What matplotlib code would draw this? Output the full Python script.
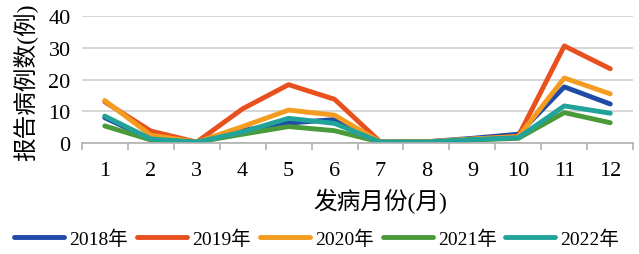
import matplotlib
matplotlib.use("Agg")
import matplotlib.pyplot as plt

months = [1, 2, 3, 4, 5, 6, 7, 8, 9, 10, 11, 12]
y2018 = [8.0, 1.2, 0.3, 4.0, 6.3, 7.4, 0.3, 0.4, 1.5, 2.8, 17.7, 12.3]
y2019 = [13.0, 3.8, 0.3, 10.8, 18.4, 13.8, 0.3, 0.4, 1.2, 2.2, 30.6, 23.4]
y2020 = [13.4, 2.5, 0.3, 5.2, 10.4, 8.8, 0.3, 0.4, 1.3, 2.0, 20.5, 15.5]
y2021 = [5.4, 1.0, 0.3, 2.8, 5.2, 3.9, 0.3, 0.3, 1.0, 1.5, 9.6, 6.4]
y2022 = [8.5, 1.3, 0.3, 3.5, 7.8, 6.2, 0.3, 0.3, 1.1, 1.7, 11.7, 9.4]

series = [
    ("2018年", y2018, "#1f4aa8"),
    ("2019年", y2019, "#e8501e"),
    ("2020年", y2020, "#f39c1f"),
    ("2021年", y2021, "#4a9a3a"),
    ("2022年", y2022, "#22a39a"),
]

fam = ["Liberation Serif", "Noto Sans CJK SC"]
plt.rcParams['font.family'] = fam

fig = plt.figure(figsize=(6.39, 2.55), dpi=100)
ax = fig.add_axes([0.128, 0.435, 0.863, 0.498])

for label, vals, color in series:
    ax.plot(months, vals, color=color, linewidth=3.5, label=label,
            solid_capstyle='round', solid_joinstyle='round')

ax.set_xlim(0.5, 12.5)
ax.set_ylim(0, 40)
ax.set_yticks([0, 10, 20, 30, 40])
ax.set_xticks(months)
ax.set_xticks([m + 0.5 for m in range(0, 13)], minor=True)
ax.yaxis.grid(True, color="#d0d0d0", linewidth=1.2)
ax.set_axisbelow(True)
for s in ["top", "right", "left"]:
    ax.spines[s].set_visible(False)
ax.spines["bottom"].set_color("#b0b0b0")
ax.spines["bottom"].set_linewidth(1.2)
ax.tick_params(axis='y', length=0, labelsize=16, pad=8)
ax.tick_params(axis='x', which='major', length=0, labelsize=16, pad=13)
ax.tick_params(axis='x', which='minor', length=5, color="#b0b0b0", width=1.2)

# axis titles placed on the figure
fig.text(0.039, 0.678, "报告病例数(例)", fontsize=17, rotation=90, ha='center', va='center')
fig.text(0.595, 0.212, "发病月份(月)", fontsize=17, ha='center', va='center')

fig.legend(loc='center', bbox_to_anchor=(0.496, 0.06), ncol=5, frameon=False,
           fontsize=14, handlelength=2.57, columnspacing=0.46, handletextpad=0.26,
           borderaxespad=0)

fig.savefig("out.png", dpi=100)
